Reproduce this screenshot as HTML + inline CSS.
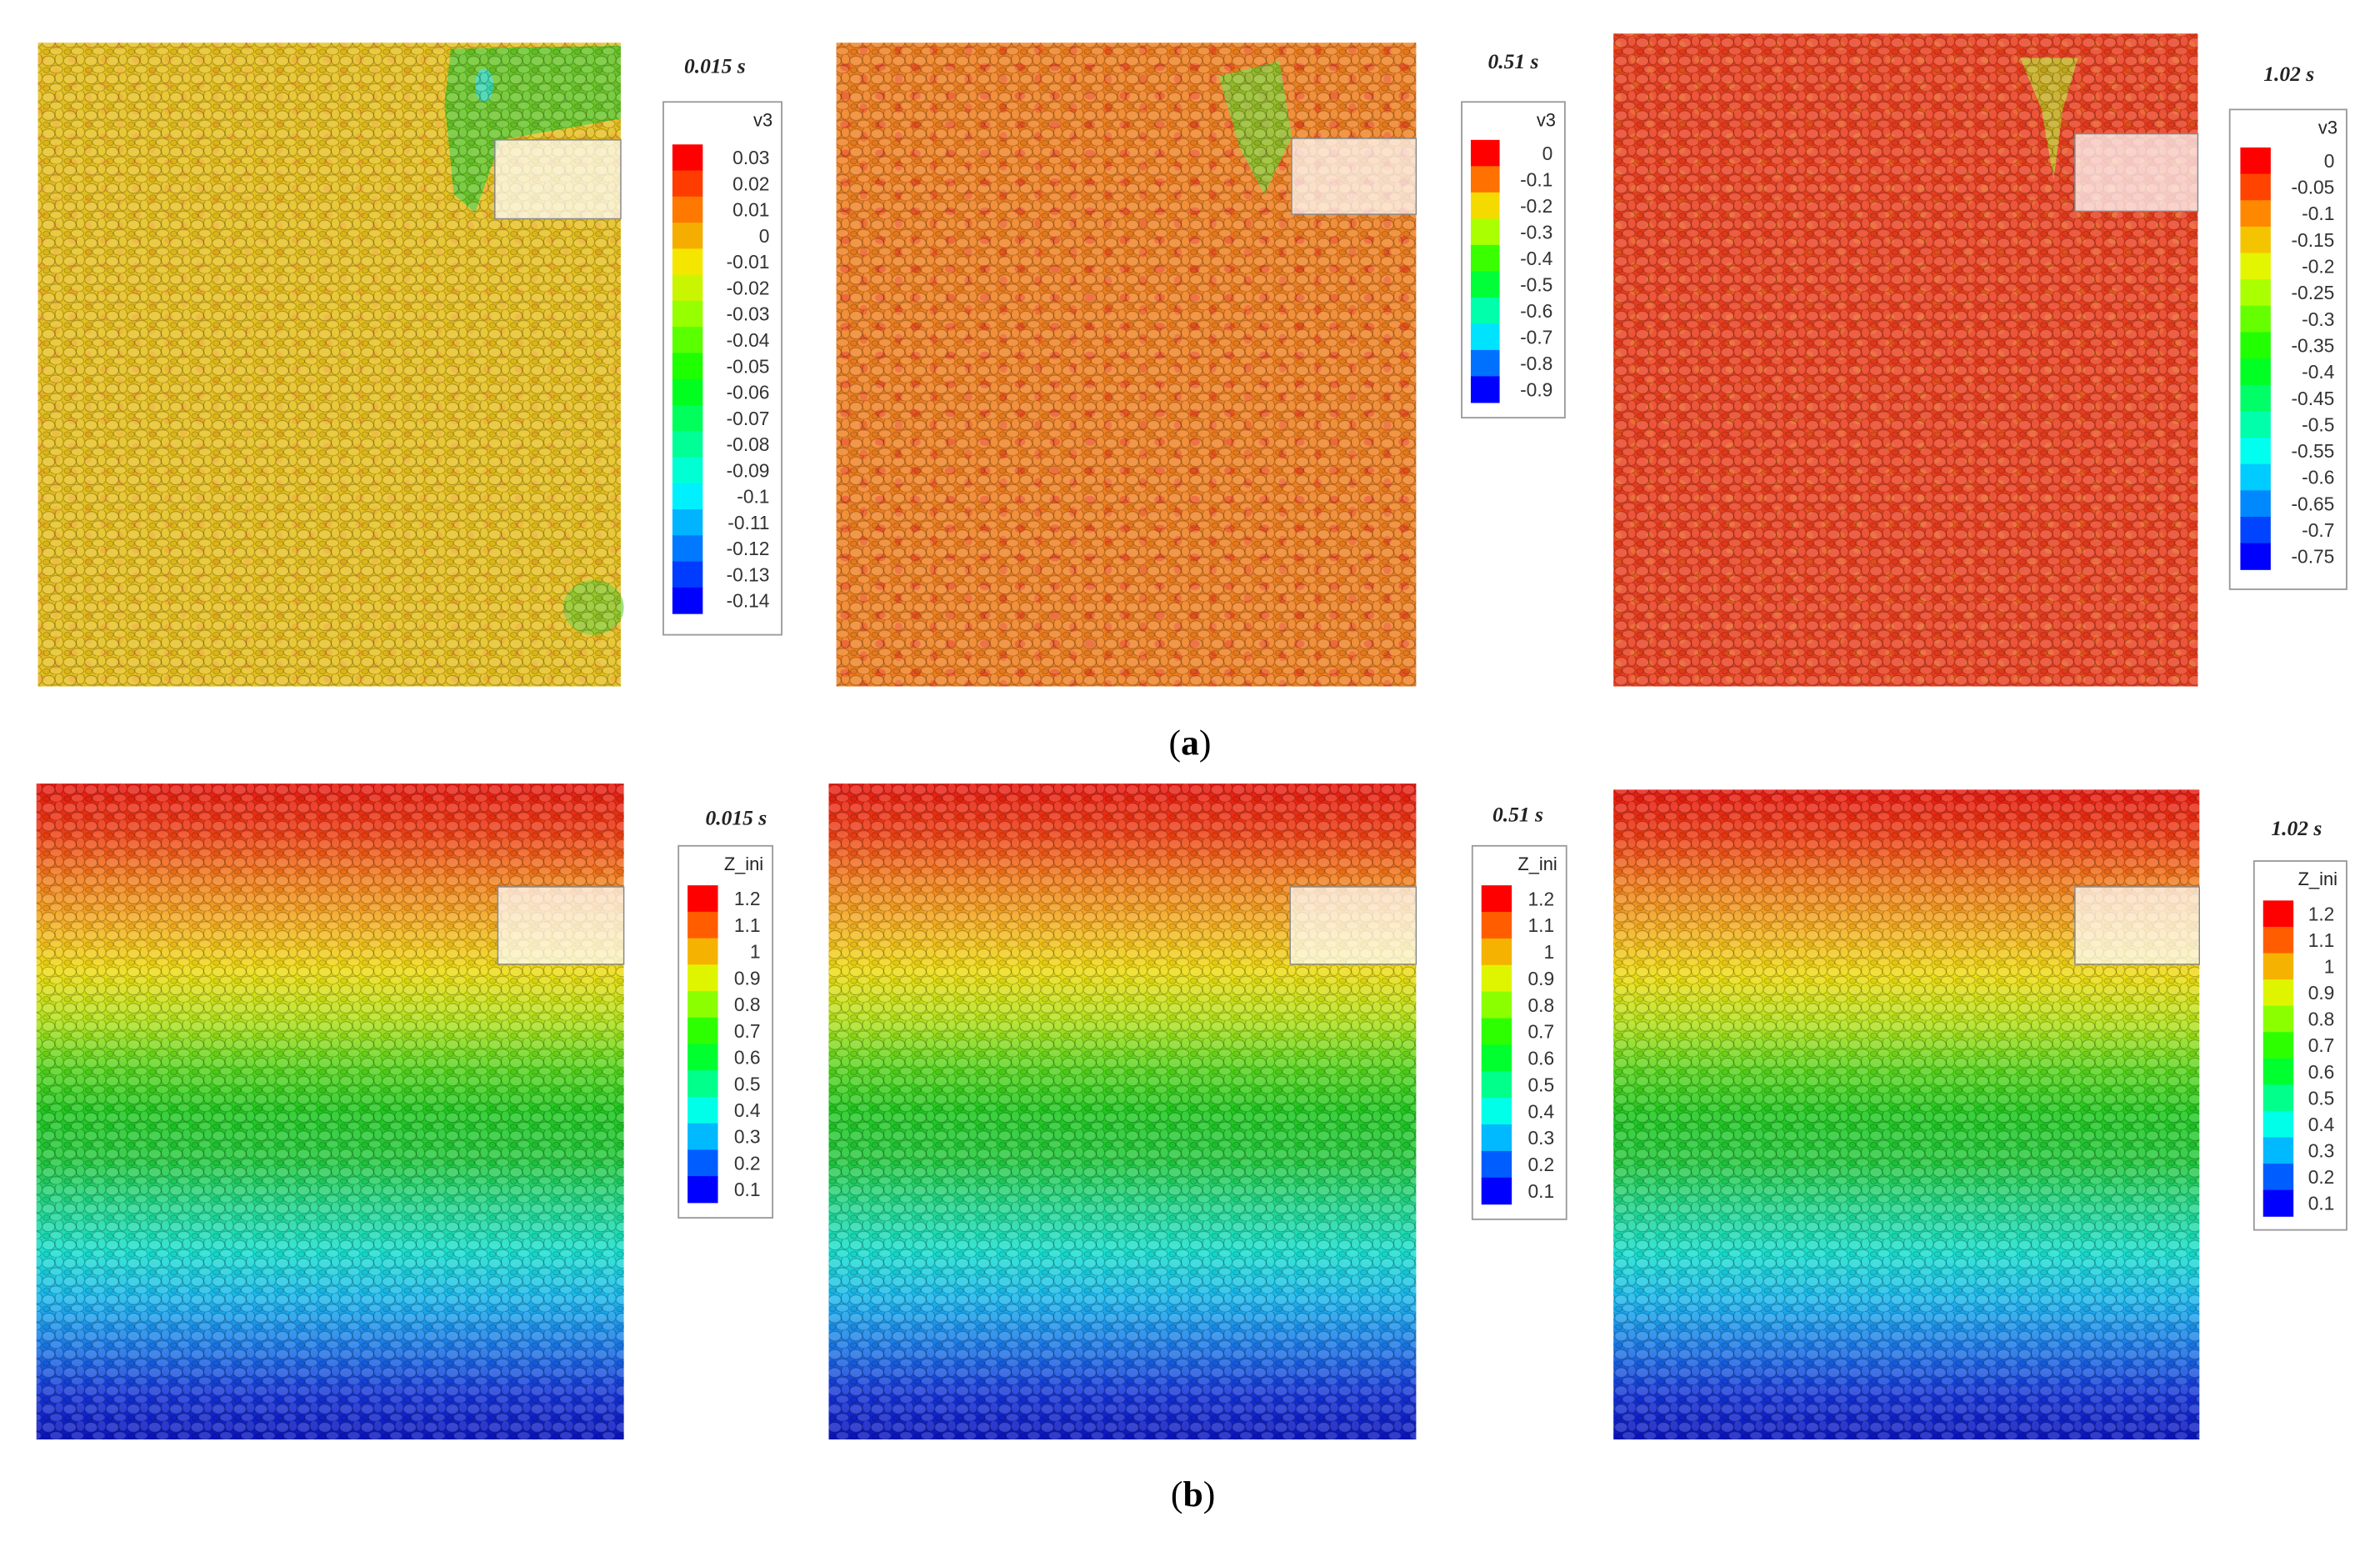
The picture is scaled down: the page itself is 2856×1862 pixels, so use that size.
<!DOCTYPE html>
<html><head><meta charset="utf-8">
<style>
html,body{margin:0;padding:0;background:#fff;}
#fig{position:absolute;left:0;top:0;width:2856px;height:1862px;}
text{font-family:"Liberation Sans",Arial,sans-serif;}
text.serif{font-family:"Liberation Serif",serif;}
</style></head>
<body>
<svg id="fig" viewBox="0 0 1568 1022" width="2856" height="1862" xmlns="http://www.w3.org/2000/svg">
<defs>
<pattern id="grains" width="14" height="12" patternUnits="userSpaceOnUse">
<ellipse cx="4" cy="4" rx="4.2" ry="3.2" fill="rgba(255,255,255,0.18)" stroke="rgba(0,0,0,0.28)" stroke-width="0.6"/>
<ellipse cx="11" cy="3" rx="2.8" ry="3.6" fill="rgba(255,255,255,0.12)" stroke="rgba(0,0,0,0.25)" stroke-width="0.6"/>
<ellipse cx="9" cy="9.5" rx="4.2" ry="2.6" fill="rgba(255,255,255,0.16)" stroke="rgba(0,0,0,0.25)" stroke-width="0.6"/>
<ellipse cx="2.5" cy="10" rx="2.2" ry="1.8" fill="rgba(0,0,0,0.05)" stroke="rgba(0,0,0,0.22)" stroke-width="0.5"/>
</pattern>
<pattern id="speck" width="23" height="19" patternUnits="userSpaceOnUse">
<ellipse cx="5" cy="6" rx="3.5" ry="2.6" fill="#e8221a" opacity="0.85"/>
<ellipse cx="17" cy="14" rx="2.6" ry="3.3" fill="#e8221a" opacity="0.7"/>
</pattern>
<pattern id="speckO" width="21" height="17" patternUnits="userSpaceOnUse">
<ellipse cx="6" cy="5" rx="3" ry="2.4" fill="#f07a20" opacity="0.55"/>
<ellipse cx="16" cy="13" rx="2.4" ry="3" fill="#f07a20" opacity="0.45"/>
</pattern>
</defs>
<g id="root"></g>
<text class="serif" x="784" y="497" text-anchor="middle" font-size="24">(<tspan font-weight="bold">a</tspan>)</text>
<text class="serif" x="786" y="992" text-anchor="middle" font-size="24">(<tspan font-weight="bold">b</tspan>)</text>
</svg>
<script>
const NS="http://www.w3.org/2000/svg";
// legend tick labels
const v3LabelsA1=["0.03","0.02","0.01","0","-0.01","-0.02","-0.03","-0.04","-0.05","-0.06","-0.07","-0.08","-0.09","-0.1","-0.11","-0.12","-0.13","-0.14"];
const v3LabelsA2=["0","-0.1","-0.2","-0.3","-0.4","-0.5","-0.6","-0.7","-0.8","-0.9"];
const v3LabelsA3=["0","-0.05","-0.1","-0.15","-0.2","-0.25","-0.3","-0.35","-0.4","-0.45","-0.5","-0.55","-0.6","-0.65","-0.7","-0.75"];
const zLabels=["1.2","1.1","1","0.9","0.8","0.7","0.6","0.5","0.4","0.3","0.2","0.1"];
const times=["0.015 s","0.51 s","1.02 s"];
// Z_ini band colours top->bottom
const zBandColors=["#e8180f","#ee3a12","#f27a1a","#f4ae1e","#eedc10","#b6e21a","#5ad61a","#1ec81e","#22c83a","#20d68a","#18e0d0","#1ab6ee","#1a78e8","#1434d8","#0a14c0"];

const root=document.getElementById('root');
function mk(tag,attrs,parent){const e=document.createElementNS(NS,tag);for(const k in attrs)e.setAttribute(k,attrs[k]);(parent||root).appendChild(e);return e;}
function rainbow(n){const out=[];for(let i=0;i<n;i++){const h=i/(n-1)*240;out.push(`hsl(${h},100%,${h>40&&h<80?48:50}%)`);}return out;}

function panel(name,x,y,w,h,inset,fillFn){
  const g=mk('g',{});
  
  
  fillFn(g,x,y,w,h);
  const t=mk('rect',{x:x,y:y,width:w,height:h,fill:'url(#grains)'},g);
  
  
  const ins=mk('rect',{x:inset[0],y:inset[1],width:x+w-inset[0],height:inset[2],fill:'rgba(255,255,255,0.72)',stroke:'#888','stroke-width':0.8},g);
  
  
}
function legend(name,bx,by,bw,bh,title,labels,cbx,cby,cbh,cbw){
  const g=mk('g',{});
  
  
  const box=mk('rect',{x:bx,y:by,width:bw,height:bh,fill:'#fff',stroke:'#999','stroke-width':1},g);
  
  
  const tt=mk('text',{x:bx+bw-6,y:by+16,'text-anchor':'end','font-size':12,fill:'#222'},g);
  tt.textContent=title;
  
  
  const cols=rainbow(labels.length);
  const step=cbh/labels.length;
  labels.forEach((l,i)=>{
    const r=mk('rect',{x:cbx,y:cby+i*step,width:cbw,height:step+0.3,fill:cols[i]},g);
    
    
    const tx=mk('text',{x:bx+bw-8,y:cby+i*step+step/2+4.5,'text-anchor':'end','font-size':12.5,fill:'#333'},g);
    tx.textContent=l;
    
    
  });
}
function timeLabel(x,y,t){
  const e=mk('text',{x:x,y:y,'class':'serif','text-anchor':'middle','font-size':14,'font-style':'italic','font-weight':'bold',fill:'#222'});
  e.textContent=t;
  
  
}

// (a) panels
panel('panel-a1',25,28,384,424,[326,92,52],(g,x,y,w,h)=>{
  mk('rect',{x:x,y:y,width:w,height:h,fill:'#e6c01c'},g);
  mk('rect',{x:x,y:y,width:w,height:h,fill:'url(#speckO)',opacity:0.5},g);
  mk('path',{d:`M${x+272} ${y+4} L${x+w} ${y+2} L${x+w} ${y+50} L${x+305} ${y+64} L${x+288} ${y+112} L${x+274} ${y+100} L${x+268} ${y+40} Z`,fill:'#3ec82a',opacity:0.75},g);
  mk('ellipse',{cx:x+294,cy:y+28,rx:6,ry:11,fill:'#30d8d0',opacity:0.8},g);
  mk('ellipse',{cx:x+366,cy:y+372,rx:20,ry:18,fill:'#5ccc2c',opacity:0.6},g);
});
panel('panel-a2',551,28,382,424,[851,91,50],(g,x,y,w,h)=>{
  mk('rect',{x:x,y:y,width:w,height:h,fill:'#ef7f1f'},g);
  mk('rect',{x:x,y:y,width:w,height:h,fill:'url(#speck)',opacity:0.55},g);
  mk('path',{d:`M${x+252} ${y+22} L${x+292} ${y+12} L${x+300} ${y+62} L${x+282} ${y+100} L${x+266} ${y+70} Z`,fill:'#6ed42a',opacity:0.7},g);
});
panel('panel-a3',1063,22,385,430,[1367,88,51],(g,x,y,w,h)=>{
  mk('rect',{x:x,y:y,width:w,height:h,fill:'#ea3c1c'},g);
  mk('rect',{x:x,y:y,width:w,height:h,fill:'url(#speckO)',opacity:0.8},g);
  mk('path',{d:`M${x+268} ${y+16} L${x+306} ${y+16} L${x+296} ${y+50} L${x+290} ${y+96} L${x+282} ${y+50} Z`,fill:'#b6d81e',opacity:0.7},g);
});
function bands(g,x,y,w,h){
  const gid='zg'+Math.round(x);
  const lg=mk('linearGradient',{id:gid,x1:0,y1:0,x2:0,y2:1},g);
  zBandColors.forEach((c,i)=>mk('stop',{offset:i/(zBandColors.length-1),'stop-color':c},lg));
  mk('rect',{x:x,y:y,width:w,height:h,fill:`url(#${gid})`},g);
}
panel('panel-b1',24,516,387,432,[328,584,51],bands);
panel('panel-b2',546,516,387,432,[850,584,51],bands);
panel('panel-b3',1063,520,386,428,[1367,584,51],bands);

legend('legend-a1',437,67,78,351,'v3',v3LabelsA1,443,95,309,20);
legend('legend-a2',963,67,68,208,'v3',v3LabelsA2,969,92,173,19);
legend('legend-a3',1469,72,77,316,'v3',v3LabelsA3,1476,97,278,20);
legend('legend-b1',447,557,62,245,'Z_ini',zLabels,453,583,209,20);
legend('legend-b2',970,557,62,246,'Z_ini',zLabels,976,583,210,20);
legend('legend-b3',1485,567,61,243,'Z_ini',zLabels,1491,593,208,20);

timeLabel(471,48,times[0]);timeLabel(997,45,times[1]);timeLabel(1508,53,times[2]);
timeLabel(485,543,times[0]);timeLabel(1000,541,times[1]);timeLabel(1513,550,times[2]);
</script>
</body></html>
